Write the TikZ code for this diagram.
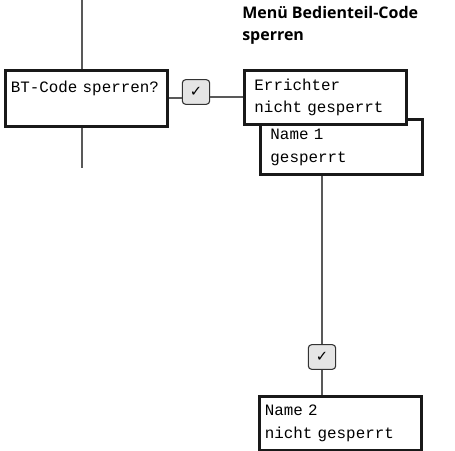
\documentclass[tikz,border=0pt]{standalone}
\usepackage{fontspec}
\setmonofont{Liberation Mono}
\newfontfamily\titlefont{Open Sans}
\newfontfamily\symfont{DejaVu Sans}
\usepackage{tikz}
\usetikzlibrary{positioning}

\begin{document}
\begin{tikzpicture}[x=0.75pt,y=0.75pt,yscale=-1,xscale=1,
  box/.style={draw=black!90, line width=2.2pt, fill=white, align=left, anchor=north west,
    font=\ttfamily\fontsize{11.9}{17}\selectfont, inner xsep=4pt, text width=113.5pt, minimum height=42pt},
  indentbox/.style={box, inner xsep=7.5pt, text width=106.5pt},
  checkbox/.style={draw=black!80, line width=0.8pt, fill=black!10, rounded corners=2.5pt,
    minimum width=20.5pt, minimum height=18.5pt, inner sep=0pt, font=\symfont\fontsize{11}{11}\selectfont},
  wire/.style={draw=black!65, line width=1.5pt},
  menutitle/.style={anchor=north west, inner sep=0pt, align=left, font=\titlefont\bfseries\fontsize{12}{16}\selectfont}]
\useasboundingbox (0,0) rectangle (455,451);

% Text Node
\node[menutitle] (menu) at (242,6.5) {Menü Bedienteil-Code\\sperren};

%Shape: Boxes
\node[box] (bt) at (4,69) {BT-Code sperren?\\\mbox{}};
\node[indentbox, minimum height=41.5pt] (nm1) at (259,118) {Name 1\\gesperrt};
\node[indentbox, minimum height=40.5pt] (err) at (243,69) {Errichter\\nicht gesperrt};
\node[box, minimum height=40.8pt] (nm2) at (258,395) {Name 2\\nicht gesperrt};

%Shape: Checks
\node[checkbox] (chk1) at (196,92) {✓};
\node[checkbox] (chk2) at (322,357) {✓};

%Straight Lines
\coordinate (above) at (82,0);
\coordinate (below) at (82,168);
\draw[wire] (above) -- (above |- bt.north);
\draw[wire] (below |- bt.south) -- (below);
\draw[wire] (bt.east) -- (bt.east -| chk1.west);
\draw[wire] (chk1.east |- err.west) -- (err.west);
\draw[wire] (chk2.north) -- (chk2.north |- nm1.south);
\draw[wire] (chk2.south) -- (chk2.south |- nm2.north);

\end{tikzpicture}
\end{document}
